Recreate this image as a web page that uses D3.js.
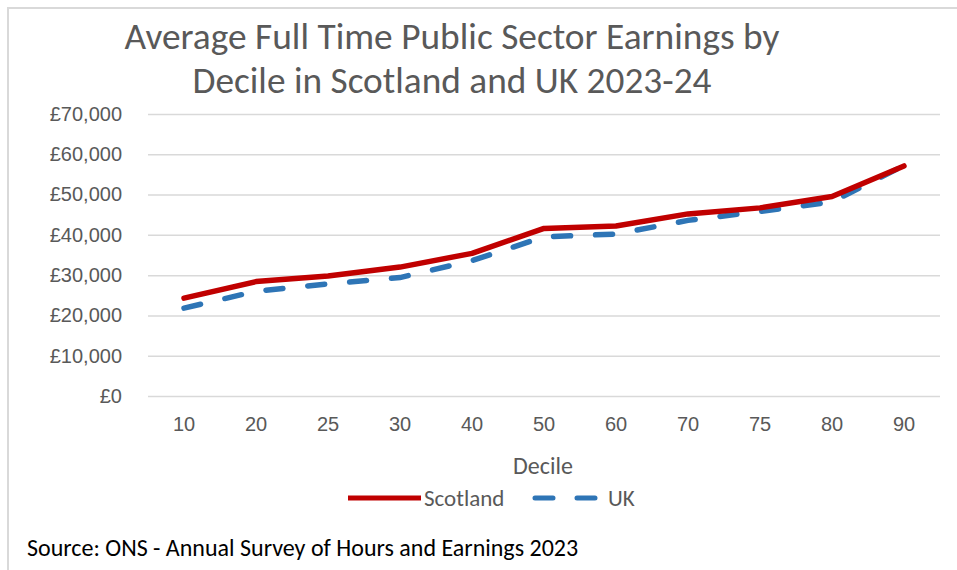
<!DOCTYPE html>
<html>
<head>
<meta charset="utf-8">
<script src="https://cdn.jsdelivr.net/npm/d3@7"></script>
<style>
  body { margin: 0; background: #fff; }
  svg { display: block; font-family: "Carlito", Lato, "Open Sans", sans-serif; }
</style>
</head>
<body>
<div id="chart"></div>
<script>
// data
const deciles = ["10", "20", "25", "30", "40", "50", "60", "70", "75", "80", "90"];
const scotland = [24300, 28400, 29800, 32000, 35400, 41600, 42200, 45200, 46700, 49500, 57100];
const uk = [21800, 26000, 27800, 29400, 33600, 39500, 40200, 43600, 45800, 48200, 57200];
const yTicks = [0, 10000, 20000, 30000, 40000, 50000, 60000, 70000];
const titleLines = ["Average Full Time Public Sector Earnings by", "Decile in Scotland and UK 2023-24"];
const titleWidths = [655, 519];

const width = 957, height = 570;
const margin = {left: 148, right: 17, top: 114, bottom: 174};

const svg = d3.select("#chart")
    .append("svg")
    .attr("width", width)
    .attr("height", height);

// chart frame
svg.append("rect")
    .attr("x", 8).attr("y", 8)
    .attr("width", width).attr("height", height)
    .attr("fill", "none")
    .attr("stroke", "#d9d9d9")
    .attr("stroke-width", 2);

let xScale = d3.scaleBand()
    .domain(deciles)
    .range([margin.left, width - margin.right]);

let yScale = d3.scaleLinear()
    .domain([0, 70000])
    .range([height - margin.bottom, margin.top]);

// title
svg.append("g").selectAll("text")
    .data(titleLines)
    .join("text")
    .attr("x", 452)
    .attr("y", (d, i) => 49 + i * 44)
    .attr("text-anchor", "middle")
    .attr("textLength", (d, i) => titleWidths[i])
    .attr("lengthAdjust", "spacingAndGlyphs")
    .style("font-size", "36px")
    .style("fill", "#595959")
    .text(d => d);

// gridlines + y labels
let yAxis = d3.axisLeft(yScale)
    .tickValues(yTicks)
    .tickSize(-(width - margin.right - margin.left))
    .tickPadding(26)
    .tickFormat(d => "£" + d3.format(",")(d));

let yg = svg.append("g")
    .attr("transform", `translate(${margin.left}, 0)`)
    .call(yAxis);
yg.select(".domain").remove();
yg.selectAll(".tick line").attr("stroke", "#d9d9d9").attr("stroke-width", 1.5);
yg.selectAll(".tick text")
    .style("font-size", "20px")
    .style("fill", "#595959")
    .style("font-family", "inherit");

// x labels
let xAxis = d3.axisBottom(xScale).tickSize(0).tickPadding(21);
let xg = svg.append("g")
    .attr("transform", `translate(0, ${height - margin.bottom})`)
    .call(xAxis);
xg.select(".domain").remove();
xg.selectAll(".tick text")
    .style("font-size", "20px")
    .style("fill", "#595959")
    .style("font-family", "inherit");

svg.append("text")
    .attr("x", 543).attr("y", 474)
    .attr("text-anchor", "middle")
    .style("font-size", "24px")
    .style("fill", "#595959")
    .text("Decile");

let line = d3.line()
    .x((d, i) => xScale(deciles[i]) + xScale.bandwidth() / 2)
    .y(d => yScale(d));

svg.append("path")
    .datum(uk)
    .attr("d", line)
    .attr("fill", "none")
    .attr("stroke", "#2e75b6")
    .attr("stroke-width", 5.5)
    .attr("stroke-linecap", "round")
    .attr("stroke-dasharray", "17,25");

svg.append("path")
    .datum(scotland)
    .attr("d", line)
    .attr("fill", "none")
    .attr("stroke", "#c00000")
    .attr("stroke-width", 5.5)
    .attr("stroke-linecap", "round")
    .attr("stroke-linejoin", "round");

// legend
let legend = svg.append("g");
legend.append("line")
    .attr("x1", 348).attr("x2", 421).attr("y1", 498).attr("y2", 498)
    .attr("stroke", "#c00000").attr("stroke-width", 5);
legend.append("text")
    .attr("x", 424).attr("y", 506)
    .style("font-size", "23px").style("fill", "#595959")
    .text("Scotland");
legend.append("line")
    .attr("x1", 535).attr("x2", 600).attr("y1", 498).attr("y2", 498)
    .attr("stroke", "#2e75b6").attr("stroke-width", 5)
    .attr("stroke-linecap", "round")
    .attr("stroke-dasharray", "18,24");
legend.append("text")
    .attr("x", 608).attr("y", 506)
    .style("font-size", "23px").style("fill", "#595959")
    .text("UK");

// source note
svg.append("text")
    .attr("x", 27).attr("y", 556)
    .style("font-size", "24px")
    .style("fill", "#000")
    .text("Source: ONS - Annual Survey of Hours and Earnings 2023");
</script>
</body>
</html>
